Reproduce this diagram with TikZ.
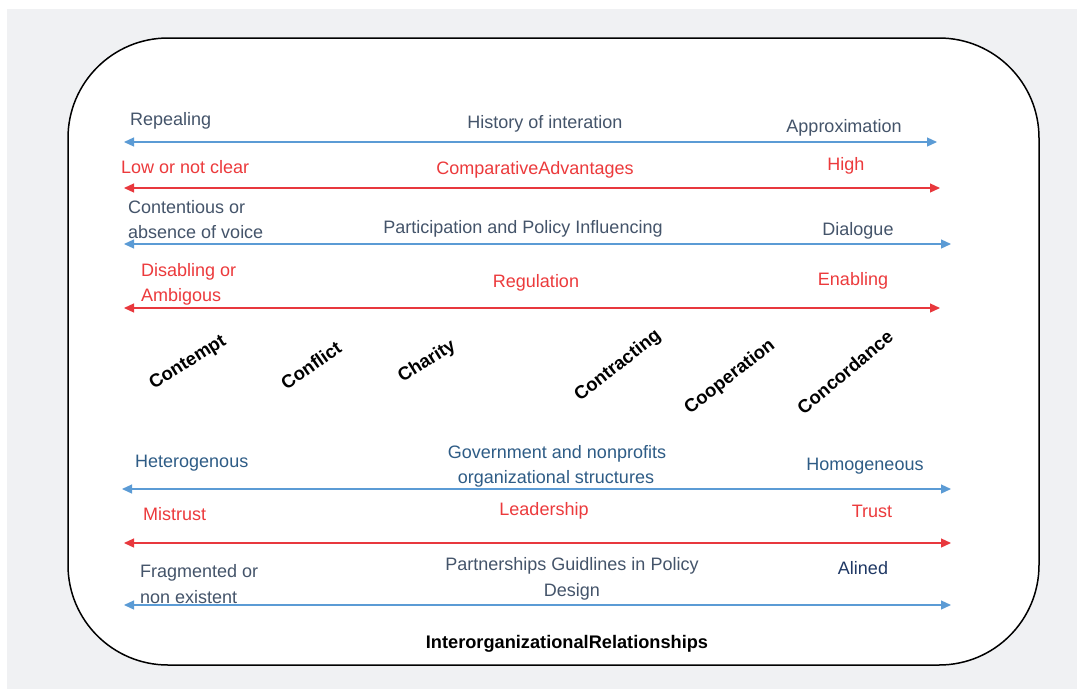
\documentclass[tikz,border=0pt]{standalone}
\usepackage{fontspec}
\setmainfont{Liberation Sans}
\usetikzlibrary{arrows.meta}
\definecolor{bgrey}{HTML}{F0F1F3}
\definecolor{slate}{HTML}{44546A}
\definecolor{redtxt}{HTML}{EC3A3C}
\definecolor{bluearrow}{HTML}{5B9BD5}
\definecolor{redarrow}{HTML}{E8383D}
\definecolor{steel}{HTML}{2E5C86}
\definecolor{navy}{HTML}{1F3864}
\tikzset{
  txt/.style={inner sep=0pt, font=\fontsize{18}{22}\selectfont},
  lab/.style={txt, text=slate},
  rlab/.style={txt, text=redtxt},
  slab/.style={txt, text=steel},
  stage/.style={inner sep=0pt, font=\fontsize{18.5}{22}\selectfont\bfseries, text=black},
  barrow/.style={draw=bluearrow, line width=1.2pt, {Triangle[length=10pt,width=9pt]}-{Triangle[length=10pt,width=9pt]}},
  rarrow/.style={draw=redarrow, line width=1.2pt, {Triangle[length=10pt,width=9pt]}-{Triangle[length=10pt,width=9pt]}},
  frame/.style={draw=black, line width=1.5pt, fill=white, rounded corners=100pt}
}
\begin{document}
\begin{tikzpicture}[x=1pt,y=-1pt]
\useasboundingbox (0,0) rectangle (1077,689);
\fill[white] (0,0) rectangle (1077,689);
\fill[bgrey] (7,9) rectangle (1077,689);
\draw[frame] (68,38) rectangle (1039,665);

% arrows
\coordinate (a1l) at (124,142); \coordinate (a1r) at (937,142);
\coordinate (a2l) at (124,188); \coordinate (a2r) at (940,188);
\coordinate (a3l) at (124,244); \coordinate (a3r) at (951,244);
\coordinate (a4l) at (124,308); \coordinate (a4r) at (940,308);
\coordinate (a5l) at (122,489); \coordinate (a5r) at (951,489);
\coordinate (a6l) at (124,543); \coordinate (a6r) at (951,543);
\coordinate (a7l) at (124,605); \coordinate (a7r) at (951,605);
\draw[barrow] (a1l) -- (a1r);
\draw[rarrow] (a2l) -- (a2r);
\draw[barrow] (a3l) -- (a3r);
\draw[rarrow] (a4l) -- (a4r);
\draw[barrow] (a5l) -- (a5r);
\draw[rarrow] (a6l) -- (a6r);
\draw[barrow] (a7l) -- (a7r);

% row 1
\node[lab, anchor=base west] (rep) at (130,125) {Repealing};
\node[lab, anchor=base] (hist) at (545,128) {History of interation};
\node[lab, anchor=base] (appr) at (844,132) {Approximation};
% row 2
\node[rlab, anchor=base west] (low) at (121,173) {Low or not clear};
\node[rlab, anchor=base] (comp) at (535,174) {ComparativeAdvantages};
\node[rlab, anchor=base] (high) at (846,170) {High};
% row 3
\node[lab, anchor=base west] (cont1) at (128,213) {Contentious or};
\node[lab, anchor=base west] (cont2) at (128,238) {absence of voice};
\node[lab, anchor=base] (part) at (523,233) {Participation and Policy Influencing};
\node[lab, anchor=base] (dial) at (858,235) {Dialogue};
% row 4
\node[rlab, anchor=base west] (dis1) at (141,276) {Disabling or};
\node[rlab, anchor=base west] (dis2) at (141,301) {Ambigous};
\node[rlab, anchor=base] (reg) at (536,287) {Regulation};
\node[rlab, anchor=base] (enab) at (853,285) {Enabling};

% stages
\node[stage, rotate=32] (s1) at (188,363) {Contempt};
\node[stage, rotate=35] (s2) at (311,365) {Conflict};
\node[stage, rotate=32] (s3) at (427,362) {Charity};
\node[stage, rotate=38] (s4) at (618,366) {Contracting};
\node[stage, rotate=38] (s5) at (730,377) {Cooperation};
\node[stage, rotate=40] (s6) at (845,372) {Concordance};

% row 5
\node[slab, anchor=base west] (het) at (135,467) {Heterogenous};
\node[slab, anchor=base] (gov1) at (557,458) {Government and nonprofits};
\node[slab, anchor=base] (gov2) at (556,483) {organizational structures};
\node[slab, anchor=base] (hom) at (865,470) {Homogeneous};
% row 6
\node[rlab, anchor=base west] (mis) at (143,520) {Mistrust};
\node[rlab, anchor=base] (lead) at (544,515) {Leadership};
\node[rlab, anchor=base] (trust) at (872,517) {Trust};
% row 7
\node[lab, anchor=base west] (frag1) at (140,577) {Fragmented or};
\node[lab, anchor=base west] (frag2) at (140,603) {non existent};
\node[lab, anchor=base] (pg1) at (572,570) {Partnerships Guidlines in Policy};
\node[lab, anchor=base] (pg2) at (572,596) {Design};
\node[txt, text=navy, anchor=base] (alin) at (863,574) {Alined};

% title
\node[inner sep=0pt, font=\fontsize{18.2}{22}\selectfont\bfseries, anchor=base] (title) at (567,648) {InterorganizationalRelationships};
\end{tikzpicture}
\end{document}
